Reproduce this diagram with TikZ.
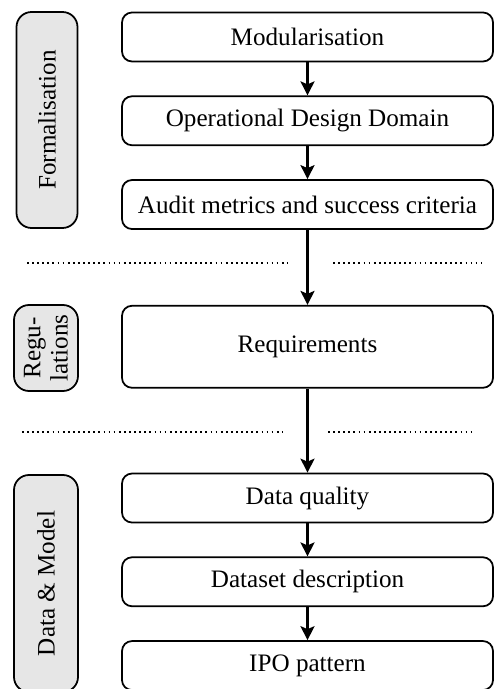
\documentclass[tikz,border=0pt]{standalone}
\usepackage{fontspec}
\setmainfont{Liberation Serif}
\usetikzlibrary{arrows.meta,positioning}
\definecolor{phasefill}{HTML}{E6E6E6}
\tikzset{
  task/.style={draw, rounded corners=0.2cm, line width=1pt, align=center, font=\fontsize{14.3}{16}\selectfont, minimum width=7.42cm, minimum height=0.98cm, inner sep=0pt},
  phase/.style={draw, fill=phasefill, rounded corners=0.3cm, line width=1pt, align=center, font=\fontsize{14.3}{15.5}\selectfont, rotate=90, inner sep=0pt},
  flow/.style={-{Stealth[length=2.8mm, width=2.8mm, inset=0.6mm]}, line width=1.3pt},
  sep/.style={dash pattern=on 1pt off 1.9pt, line width=1pt},
}

\begin{document}
\begin{tikzpicture}[node distance=0.66cm]
    \useasboundingbox (0,0) rectangle (9.88,-13.78);
    % formalisation
    \node[task] (modul) at (6.15,-0.74) {Modularisation};
    \node[task, below=of modul] (odd) {Operational Design Domain};
    \node[task, below=of odd] (audit) {Audit metrics and success criteria};
    % regulations
    \node[task, minimum height=1.64cm, below=1.5cm of audit] (req) {Requirements};
    % data and model
    \node[task, below=1.68cm of req] (quality) {Data quality};
    \node[task, below=of quality] (dataset) {Dataset description};
    \node[task, below=of dataset] (ipo) {IPO pattern};

    \node[phase, minimum width=4.32cm, minimum height=1.22cm] (pform) at (0.94,-2.4) {Formalisation};
    \node[phase, minimum width=1.72cm, minimum height=1.28cm] (preg) at (0.92,-6.96) {Regu-\\lations};
    \node[phase, minimum width=4.34cm, minimum height=1.28cm] (pdata) at (0.92,-11.67) {Data \& Model};

    \draw[flow] (modul) -- (odd);
    \draw[flow] (odd) -- (audit);
    \draw[flow] (audit) -- (req);
    \draw[flow] (req) -- (quality);
    \draw[flow] (quality) -- (dataset);
    \draw[flow] (dataset) -- (ipo);

    \draw[sep] (0.54,-5.26) -- (5.76,-5.26);
    \draw[sep] (6.66,-5.26) -- (9.62,-5.26);
    \draw[sep] (0.44,-8.64) -- (5.64,-8.64);
    \draw[sep] (6.56,-8.64) -- (9.5,-8.64);
  \end{tikzpicture}
\end{document}
